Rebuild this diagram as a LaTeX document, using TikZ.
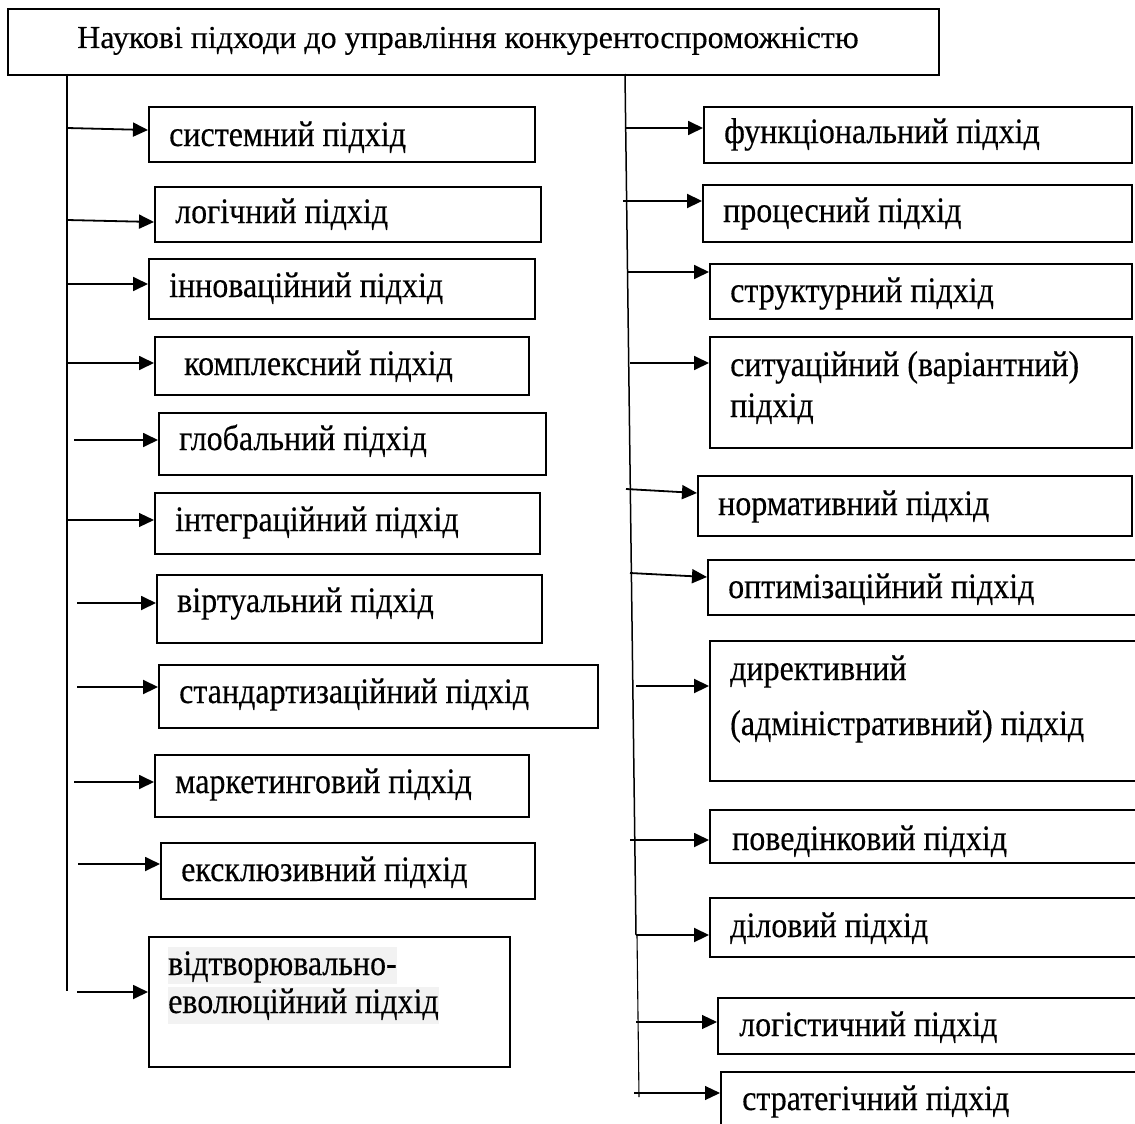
\documentclass[tikz,border=0pt]{standalone}
\usepackage{fontspec}
\setmainfont{Liberation Serif}[FakeBold=0.35]
\usetikzlibrary{arrows.meta}
\definecolor{hl}{RGB}{242,242,242}
\newcommand{\tallt}[1]{\scalebox{1}[1.12]{#1}}
\begin{document}
\begin{tikzpicture}[x=1pt,y=-1pt,
  box/.style={draw, line width=1.6pt, inner sep=0pt, anchor=north west},
  txt/.style={anchor=base west, inner sep=0pt, font=\fontsize{32}{37}\selectfont},
  arr/.style={line width=1.8pt, -{Triangle[length=15pt,width=14pt]}},
  arrthin/.style={line width=1.1pt, -{Triangle[length=15pt,width=14pt]}},
  trunk/.style={line width=1.8pt}]
\useasboundingbox (0,0) rectangle (1135,1124);
\fill[white] (0,0) rectangle (1135,1124);
\clip (0,0) rectangle (1135,1124);

% title
\node[box, minimum width=931pt, minimum height=66pt] (top) at (7,8) {};
\node[txt] (toptxt) at (77,48) {Наукові підходи до управління конкурентоспроможністю};

% left trunk
\coordinate (lt0) at (67,74);
\coordinate (lt1) at (67,991);
\draw[trunk] (lt0) -- (lt1);

% left boxes
\node[box, minimum width=386pt, minimum height=55pt] (L1) at (148,106) {};
\node[box, minimum width=386pt, minimum height=55pt] (L2) at (154,186) {};
\node[box, minimum width=386pt, minimum height=60pt] (L3) at (148,258) {};
\node[box, minimum width=374pt, minimum height=58pt] (L4) at (154,336) {};
\node[box, minimum width=387pt, minimum height=62pt] (L5) at (158,412) {};
\node[box, minimum width=385pt, minimum height=61pt] (L6) at (154,492) {};
\node[box, minimum width=385pt, minimum height=68pt] (L7) at (156,574) {};
\node[box, minimum width=439pt, minimum height=63pt] (L8) at (158,664) {};
\node[box, minimum width=374pt, minimum height=62pt] (L9) at (154,754) {};
\node[box, minimum width=374pt, minimum height=56pt] (L10) at (160,842) {};
\node[box, minimum width=361pt, minimum height=130pt] (L11) at (148,936) {};

\node[txt] (t1) at (169,146) {\tallt{системний підхід}};
\node[txt] (t2) at (175,223) {\tallt{логічний підхід}};
\node[txt] (t3) at (169,297) {\tallt{інноваційний підхід}};
\node[txt] (t4) at (184,375) {\tallt{комплексний підхід}};
\node[txt] (t5) at (179,450) {\tallt{глобальний підхід}};
\node[txt] (t6) at (175,531) {\tallt{інтеграційний підхід}};
\node[txt] (t7) at (177,612) {\tallt{віртуальний підхід}};
\node[txt] (t8) at (179,703) {\tallt{стандартизаційний підхід}};
\node[txt] (t9) at (175,793) {\tallt{маркетинговий підхід}};
\node[txt] (t10) at (181,881) {\tallt{ексклюзивний підхід}};
\node[txt, fill=hl, text height=28pt, text depth=9pt] (t11a) at (168,975) {\tallt{відтворювально-}};
\node[txt, fill=hl, text height=26pt, text depth=11pt] (t11b) at (168,1013) {\tallt{еволюційний підхід}};

% left arrows
\coordinate (a1) at (67,128);
\coordinate (a2) at (67,220);
\coordinate (a3) at (67,284);
\coordinate (a4) at (67,363);
\coordinate (a5) at (74,440);
\coordinate (a6) at (67,520);
\coordinate (a7) at (77,603);
\coordinate (a8) at (77,687);
\coordinate (a9) at (74,782);
\coordinate (a10) at (78,864);
\coordinate (a11) at (77,992);
\draw[arr] (a1) -- ([yshift=-24pt]L1.north west);
\draw[arr] (a2) -- ([yshift=-36pt]L2.north west);
\draw[arr] (a3) -- (a3 -| L3.west);
\draw[arr] (a4) -- (a4 -| L4.west);
\draw[arr] (a5) -- (a5 -| L5.west);
\draw[arrthin] (a6) -- (a6 -| L6.west);
\draw[arr] (a7) -- (a7 -| L7.west);
\draw[arr, line width=2.2pt] (a8) -- (a8 -| L8.west);
\draw[arr] (a9) -- (a9 -| L9.west);
\draw[arr] (a10) -- (a10 -| L10.west);
\draw[arr] (a11) -- (a11 -| L11.west);

% right trunk
\coordinate (rt0) at (625,74);
\coordinate (rt1) at (636,935);
\coordinate (rt2) at (637,935);
\coordinate (rt3) at (639,1097);
\draw[line width=1.5pt] (rt0) -- (rt1);
\draw[line width=1.1pt] (rt2) -- (rt3);

% right boxes
\node[box, minimum width=428pt, minimum height=56pt] (R1) at (703,106) {};
\node[box, minimum width=429pt, minimum height=57pt] (R2) at (702,184) {};
\node[box, minimum width=422pt, minimum height=55pt] (R3) at (709,263) {};
\node[box, minimum width=422pt, minimum height=111pt] (R4) at (709,336) {};
\node[box, minimum width=434pt, minimum height=60pt] (R5) at (697,475) {};
\node[box, minimum width=440pt, minimum height=55pt] (R6) at (707,559) {};
\node[box, minimum width=440pt, minimum height=140pt] (R7) at (709,640) {};
\node[box, minimum width=440pt, minimum height=53pt] (R8) at (709,809) {};
\node[box, minimum width=440pt, minimum height=59pt] (R9) at (709,897) {};
\node[box, minimum width=440pt, minimum height=56pt] (R10) at (717,997) {};
\node[box, minimum width=440pt, minimum height=80pt] (R11) at (720,1071) {};

\node[txt] (r1) at (724,143) {\tallt{функціональний підхід}};
\node[txt] (r2) at (723,222) {\tallt{процесний підхід}};
\node[txt] (r3) at (730,302) {\tallt{структурний підхід}};
\node[txt] (r4a) at (730,376) {\tallt{ситуаційний (варіантний)}};
\node[txt] (r4b) at (730,417) {\tallt{підхід}};
\node[txt] (r5) at (718,515) {\tallt{нормативний підхід}};
\node[txt] (r6) at (728,598) {\tallt{оптимізаційний підхід}};
\node[txt] (r7a) at (730,680) {\tallt{директивний}};
\node[txt] (r7b) at (730,735) {\tallt{(адміністративний) підхід}};
\node[txt] (r8) at (732,850) {\tallt{поведінковий підхід}};
\node[txt] (r9) at (730,937) {\tallt{діловий підхід}};
\node[txt] (r10) at (739,1036) {\tallt{логістичний підхід}};
\node[txt] (r11) at (742,1110) {\tallt{стратегічний підхід}};

% right arrows
\coordinate (b1) at (625,128);
\coordinate (b2) at (623,201);
\coordinate (b3) at (627,272);
\coordinate (b4) at (630,363);
\coordinate (b5) at (626,489);
\coordinate (b6) at (630,573);
\coordinate (b7) at (636,686);
\coordinate (b8) at (630,840);
\coordinate (b9) at (636,935);
\coordinate (b10) at (636,1022);
\coordinate (b11) at (634,1093);
\draw[arr] (b1) -- (b1 -| R1.west);
\draw[arr, line width=2.2pt] (b2) -- (b2 -| R2.west);
\draw[arr] (b3) -- (b3 -| R3.west);
\draw[arr] (b4) -- (b4 -| R4.west);
\draw[arr] (b5) -- ([yshift=-18pt]R5.north west);
\draw[arr] (b6) -- ([yshift=-18pt]R6.north west);
\draw[arr, line width=2.2pt] (b7) -- (b7 -| R7.west);
\draw[arr] (b8) -- (b8 -| R8.west);
\draw[arr, line width=2.2pt] (b9) -- (b9 -| R9.west);
\draw[arrthin] (b10) -- (b10 -| R10.west);
\draw[arrthin] (b11) -- (b11 -| R11.west);
\end{tikzpicture}
\end{document}
